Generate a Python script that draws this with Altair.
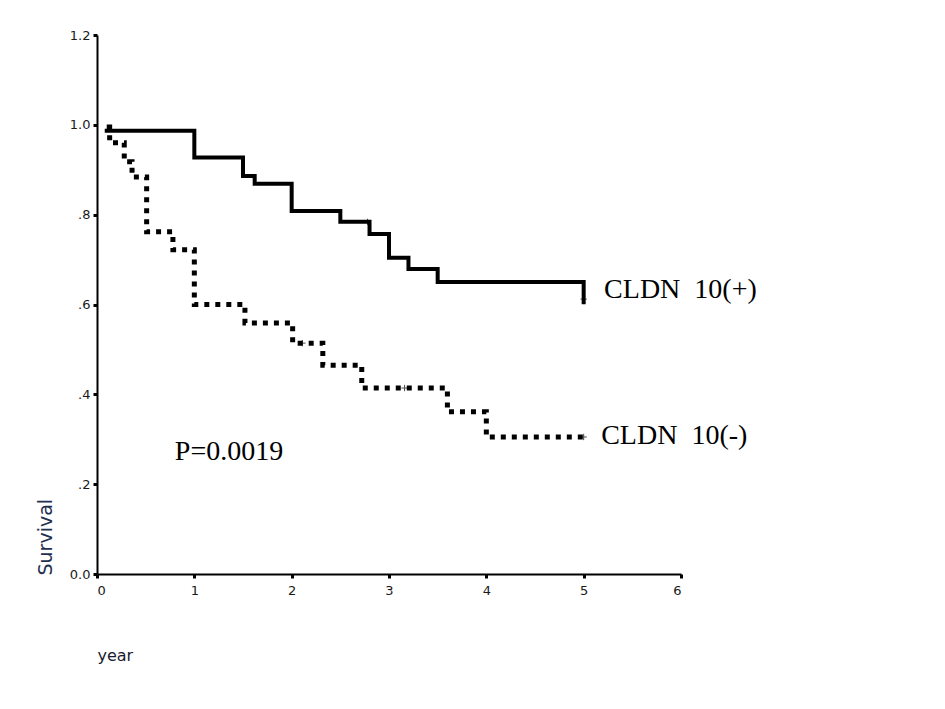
import altair as alt
import pandas as pd

# CLDN 10(+) survival steps
pos_time = [0.10, 1.00, 1.50, 1.62, 2.00, 2.50, 2.80, 3.00, 3.20, 3.50, 5.00, 5.00]
pos_surv = [0.987, 0.927, 0.886, 0.869, 0.808, 0.784, 0.757, 0.704, 0.679, 0.650, 0.650, 0.605]

# CLDN 10(-) survival steps
neg_time = [0.10, 0.13, 0.28, 0.36, 0.51, 0.78, 1.00, 1.52, 2.01, 2.32, 2.72, 3.60, 4.00, 5.00]
neg_surv = [0.995, 0.960, 0.918, 0.884, 0.762, 0.722, 0.600, 0.559, 0.514, 0.465, 0.414, 0.361, 0.305, 0.305]

# censored observations
cens_time = [2.78, 5.00, 2.11, 3.16, 5.00]
cens_surv = [0.784, 0.612, 0.514, 0.414, 0.305]

# annotations
ann_text = ["CLDN\u00a0 10(+)", "CLDN\u00a0 10(-)", "P=0.0019"]
ann_x = [5.21, 5.18, 0.80]
ann_y = [0.633, 0.307, 0.272]

x_ticks = [0, 1, 2, 3, 4, 5, 6]
y_ticks = [0.0, 0.2, 0.4, 0.6, 0.8, 1.0, 1.2]

pos_df = pd.DataFrame({"t": pos_time, "s": pos_surv, "o": range(len(pos_time))})
neg_df = pd.DataFrame({"t": neg_time, "s": neg_surv, "o": range(len(neg_time))})
cens_df = pd.DataFrame({"t": cens_time, "s": cens_surv})
ann_df = pd.DataFrame({"label": ann_text, "x": ann_x, "y": ann_y})

xscale = alt.Scale(domain=[0, 6], nice=False, zero=False)
yscale = alt.Scale(domain=[0, 1.2], nice=False, zero=False)

xaxis = alt.Axis(values=x_ticks, format="d", title="year", grid=False,
                 domainColor="black", domainWidth=2, tickColor="black",
                 tickSize=4, tickWidth=3, labelFont="DejaVu Sans", labelFontSize=13,
                 labelColor="#1a1a1a", labelPadding=6,
                 titleFont="DejaVu Sans", titleFontSize=16, titleFontWeight="normal",
                 titleColor="#1a1a2e", titleX=0, titleY=81, titleAlign="left",
                 titleBaseline="middle", titleAnchor="start")
yaxis = alt.Axis(values=y_ticks, title="Survival", grid=False,
                 labelExpr="datum.value == 0 ? '0.0' : (datum.value == 1 ? '1.0' : (datum.value == 1.2 ? '1.2' : replace(format(datum.value, '.1f'), '0.', '.')))",
                 domainColor="black", domainWidth=2, tickColor="black",
                 tickSize=4, tickWidth=3, labelFont="DejaVu Sans", labelFontSize=13,
                 labelColor="#1a1a1a", labelPadding=3,
                 titleFont="DejaVu Sans", titleFontSize=19, titleFontWeight="normal",
                 titleColor="#1f3050", titleAngle=270, titleX=-52, titleY=540,
                 titleAlign="left", titleBaseline="middle")

pos_line = alt.Chart(pos_df).mark_line(interpolate="step-after", color="black",
                                        strokeWidth=4, strokeCap="square").encode(
    x=alt.X("t:Q", scale=xscale, axis=xaxis),
    y=alt.Y("s:Q", scale=yscale, axis=yaxis),
    order="o:Q",
)

neg_line = alt.Chart(neg_df).mark_line(interpolate="step-after", color="black",
                                        strokeWidth=5, strokeDash=[5, 6]).encode(
    x=alt.X("t:Q", scale=xscale),
    y=alt.Y("s:Q", scale=yscale),
    order="o:Q",
)

cens = alt.Chart(cens_df).mark_point(shape="M-1,0L1,0M0,-1L0,1", color="black",
                                     size=40, strokeWidth=1, filled=False).encode(
    x=alt.X("t:Q", scale=xscale),
    y=alt.Y("s:Q", scale=yscale),
)

ann = alt.Chart(ann_df).mark_text(align="left", baseline="middle",
                                  font="Liberation Serif", fontSize=28,
                                  color="black").encode(
    x=alt.X("x:Q", scale=xscale),
    y=alt.Y("y:Q", scale=yscale),
    text="label:N",
)

chart = alt.layer(pos_line, neg_line, cens, ann).properties(
    width=584, height=539,
    autosize=alt.AutoSizeParams(type="none"),
    padding={"left": 89, "top": 27, "right": 240, "bottom": 110},
    background="white",
).configure_view(stroke=None)

chart.save("out.html", embed_options={"renderer": "svg", "actions": False})
